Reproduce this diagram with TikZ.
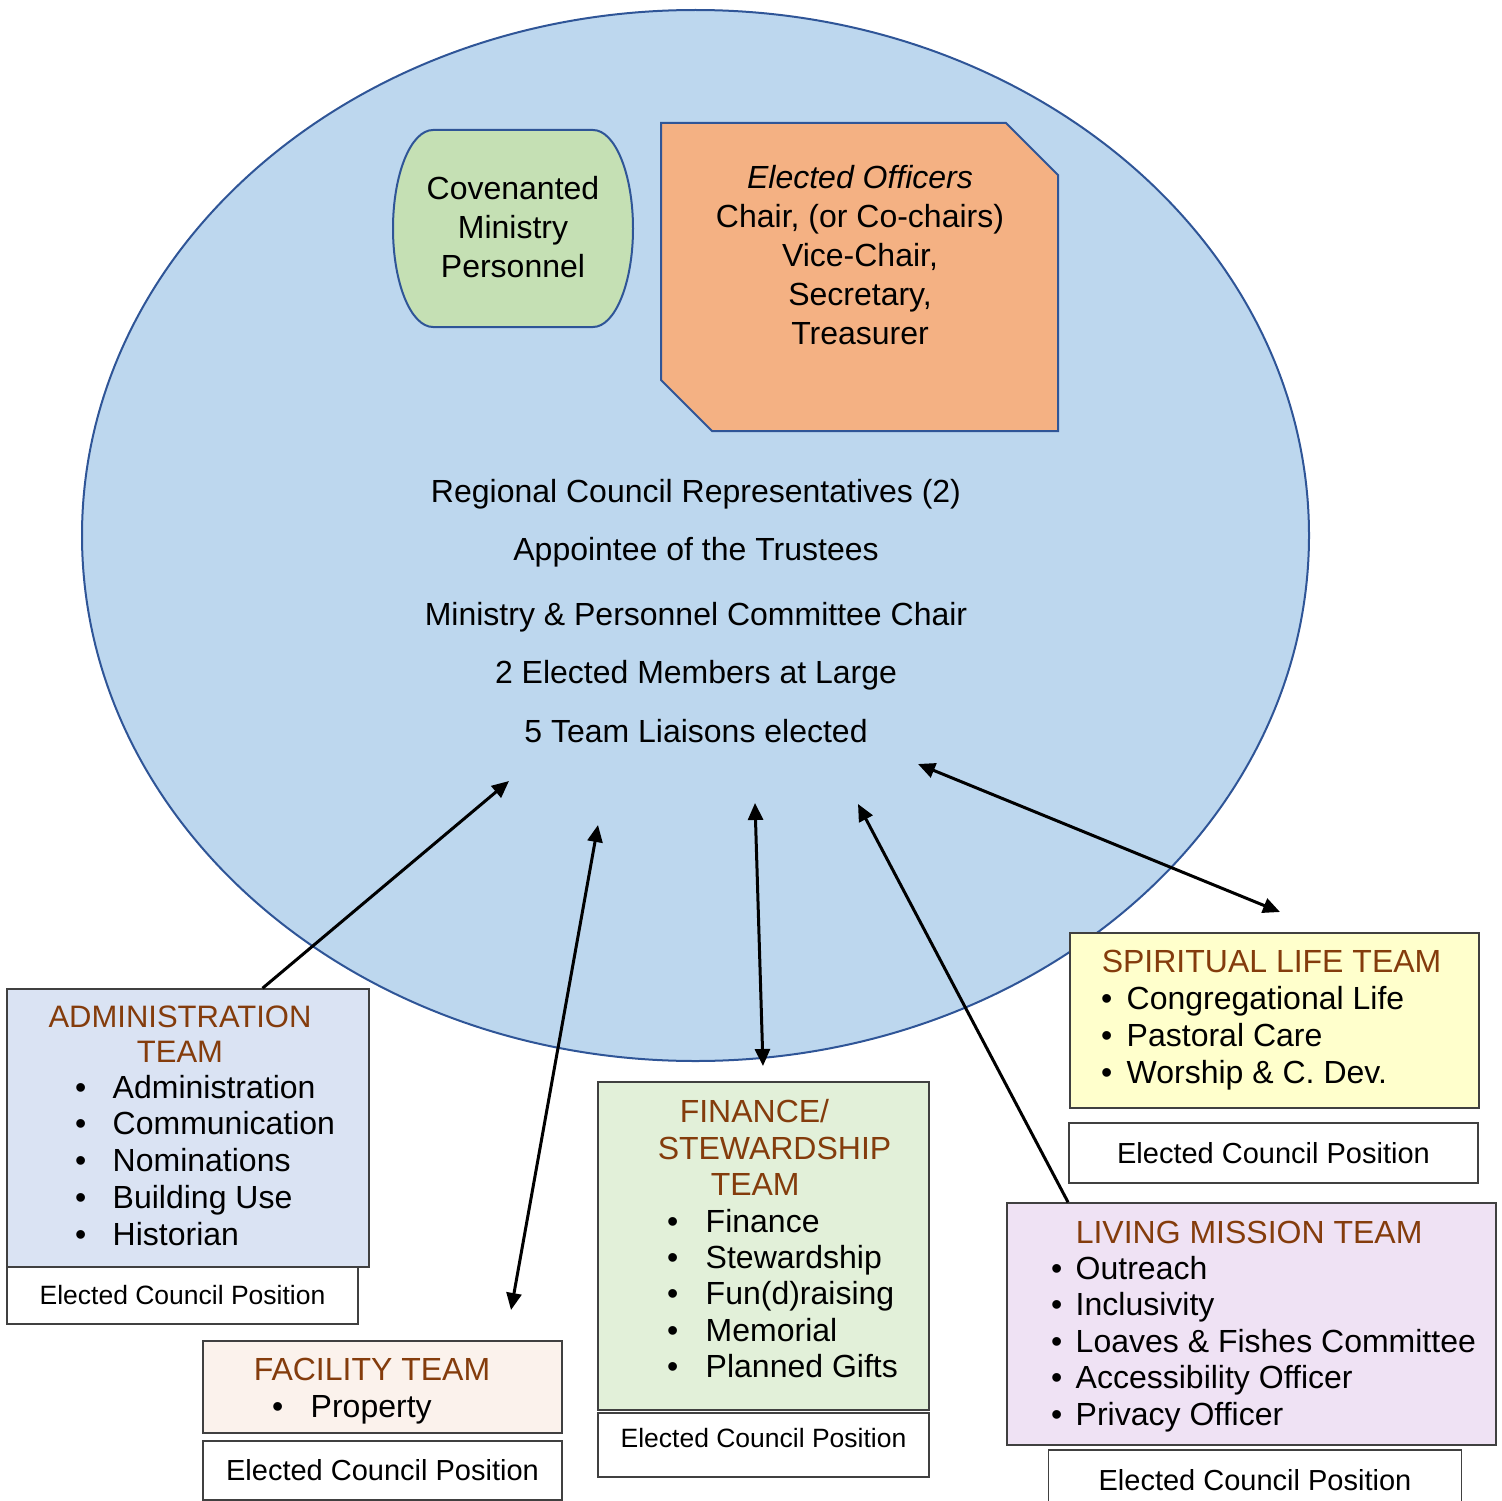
\documentclass[tikz,border=0pt]{standalone}
\usepackage{fontspec}
\setmainfont{Liberation Sans}
\usetikzlibrary{arrows.meta,shapes.geometric,calc}
\definecolor{cnblue}{HTML}{BDD7EE}
\definecolor{cnedge}{HTML}{2F5597}
\definecolor{cmgreen}{HTML}{C5E0B4}
\definecolor{offorange}{HTML}{F4B183}
\definecolor{tmbrown}{HTML}{843C0C}
\definecolor{tmgray}{HTML}{404040}
\definecolor{admfill}{HTML}{DAE3F3}
\definecolor{facfill}{HTML}{FBF2EC}
\definecolor{finfill}{HTML}{E2F0D9}
\definecolor{splfill}{HTML}{FFFFCC}
\definecolor{lvmfill}{HTML}{EFE2F4}
\newcommand{\tbul}[1]{\makebox[#1][l]{\textbullet}}

\begin{document}
\begin{tikzpicture}[x=1pt, y=-1pt, line width=1.5pt, >={Triangle[length=17pt,width=15pt]},
  txt/.style={inner sep=0pt, anchor=base, font=\fontsize{32}{38}\selectfont},
  head/.style={txt, anchor=base west, text=tmbrown},
  item/.style={txt, anchor=base west},
  teambox/.style={draw=tmgray, line width=1.5pt, anchor=north west, inner sep=0pt},
  posbox/.style={teambox, fill=white, font=\fontsize{29}{34}\selectfont},
  link/.style={line width=3pt}]
  \useasboundingbox (0,0) rectangle (1502,1501);
  % council ellipse
  \node[ellipse, draw=cnedge, fill=cnblue, line width=2pt, inner sep=0pt,
        minimum width=1227, minimum height=1051] (council) at (695.5,535.5) {};
  % covenanted ministry personnel
  \filldraw[draw=cnedge, fill=cmgreen, line width=2pt]
    (433,130) -- (593,130) .. controls (615.1,130) and (633,174.1) .. (633,228.5)
    .. controls (633,282.9) and (615.1,327) .. (593,327) -- (433,327)
    .. controls (410.9,327) and (393,282.9) .. (393,228.5)
    .. controls (393,174.1) and (410.9,130) .. (433,130) -- cycle;
  \node[txt] (cmp-1) at (513,199) {Covenanted};
  \node[txt] (cmp-2) at (513,238) {Ministry};
  \node[txt] (cmp-3) at (513,277) {Personnel};
  % elected officers
  \filldraw[draw=cnedge, fill=offorange, line width=2pt]
    (661,123) -- (1006,123) -- (1058,175) -- (1058,431) -- (712,431) -- (661,380) -- cycle;
  \node[txt] (off-1) at (860,188) {\textit{Elected Officers}};
  \node[txt] (off-2) at (860,227) {Chair, (or Co-chairs)};
  \node[txt] (off-3) at (860,266) {Vice-Chair,};
  \node[txt] (off-4) at (860,305) {Secretary,};
  \node[txt] (off-5) at (860,344) {Treasurer};
  % council members
  \node[txt] (mem-1) at (696,502) {Regional Council Representatives (2)};
  \node[txt] (mem-2) at (696,560) {Appointee of the Trustees};
  \node[txt] (mem-3) at (696,625) {Ministry \& Personnel Committee Chair};
  \node[txt] (mem-4) at (696,683) {2 Elected Members at Large};
  \node[txt] (mem-5) at (696,742) {5 Team Liaisons elected};

  % administration team
  \node[teambox, fill=admfill, minimum width=362, minimum height=278] (adm) at (6.25,988.25) {};
  \node[posbox, minimum width=351, minimum height=57, font=\fontsize{26.5}{32}\selectfont] (adm-pos) at (6.25,1266.25) {Elected Council Position};
  \node[txt, text=tmbrown, font=\fontsize{31}{36}\selectfont] (adm-h1) at (180,1027) {ADMINISTRATION};
  \node[txt, text=tmbrown, font=\fontsize{31}{36}\selectfont] (adm-h2) at (180,1062) {TEAM};
  \foreach \t [count=\i from 0] in {Administration,Communication,Nominations,Building Use,Historian}
    \node[item] (adm-\i) at (74.4,1098+36.75*\i) {\tbul{37.6pt}\t};

  % facility team
  \node[teambox, fill=facfill, minimum width=359, minimum height=92] (fac) at (202.25,1340.25) {};
  \node[posbox, minimum width=359, minimum height=59] (fac-pos) at (202.25,1440.25) {Elected Council Position};
  \node[head] (fac-h) at (253,1380) {FACILITY TEAM};
  \node[item] (fac-0) at (271.4,1417) {\tbul{38.6pt}Property};

  % finance / stewardship team
  \node[teambox, fill=finfill, minimum width=331, minimum height=328] (fin) at (597.25,1081.25) {};
  \node[posbox, minimum width=331, minimum height=64, text height=20pt, text depth=16pt,
        font=\fontsize{26.5}{32}\selectfont] (fin-pos) at (597.25,1412.25) {Elected Council Position};
  \node[head] (fin-h1) at (679,1122) {FINANCE/};
  \node[head] (fin-h2) at (657,1159) {STEWARDSHIP};
  \node[head] (fin-h3) at (710,1195) {TEAM};
  \foreach \t [count=\i from 0] in {Finance,Stewardship,Fun(d)raising,Memorial,Planned Gifts}
    \node[item] (fin-\i) at (666.4,1232+36.4*\i) {\tbul{38.6pt}\t};

  % spiritual life team
  \node[teambox, fill=splfill, minimum width=409, minimum height=175] (spl) at (1069.25,932.25) {};
  \node[posbox, minimum width=409, minimum height=60] (spl-pos) at (1068.25,1122.25) {Elected Council Position};
  \node[head] (spl-h) at (1101,972) {SPIRITUAL LIFE TEAM};
  \foreach \t [count=\i from 0] in {Congregational Life,Pastoral Care,Worship \& C. Dev.}
    \node[item] (spl-\i) at (1100.4,1009+37*\i) {\tbul{25.6pt}\t};

  % living mission team
  \node[teambox, fill=lvmfill, minimum width=489, minimum height=242] (lvm) at (1006.25,1202.25) {};
  \node[posbox, minimum width=413, minimum height=60] (lvm-pos) at (1047.75,1449.25) {Elected Council Position};
  \node[head] (lvm-h) at (1075,1243) {LIVING MISSION TEAM};
  \foreach \t [count=\i from 0] in {Outreach,Inclusivity,Loaves \& Fishes Committee,Accessibility Officer,Privacy Officer}
    \node[item] (lvm-\i) at (1050.4,1279+36.6*\i) {\tbul{24.6pt}\t};

  % liaison arrows
  \coordinate (adm-top) at ($(adm.north west)!0.705!(adm.north east)$);
  \coordinate (adm-tip) at (509,781);
  \coordinate (fac-up) at (598,825);
  \coordinate (fac-dn) at (511,1310);
  \coordinate (fin-up) at (755,803);
  \coordinate (fin-dn) at (763,1066);
  \coordinate (lvm-top) at ($(lvm.north west)!0.126!(lvm.north east)$);
  \coordinate (lvm-tip) at (858,804);
  \coordinate (spl-up) at (918,764);
  \coordinate (spl-dn) at (1280,912);
  \draw[link, ->] (adm-top) -- (adm-tip);
  \draw[link, <->] (fac-up) -- (fac-dn);
  \draw[link, <->] (fin-up) -- (fin-dn);
  \draw[link, ->] (lvm-top) -- (lvm-tip);
  \draw[link, <->] (spl-up) -- (spl-dn);
\end{tikzpicture}
\end{document}
